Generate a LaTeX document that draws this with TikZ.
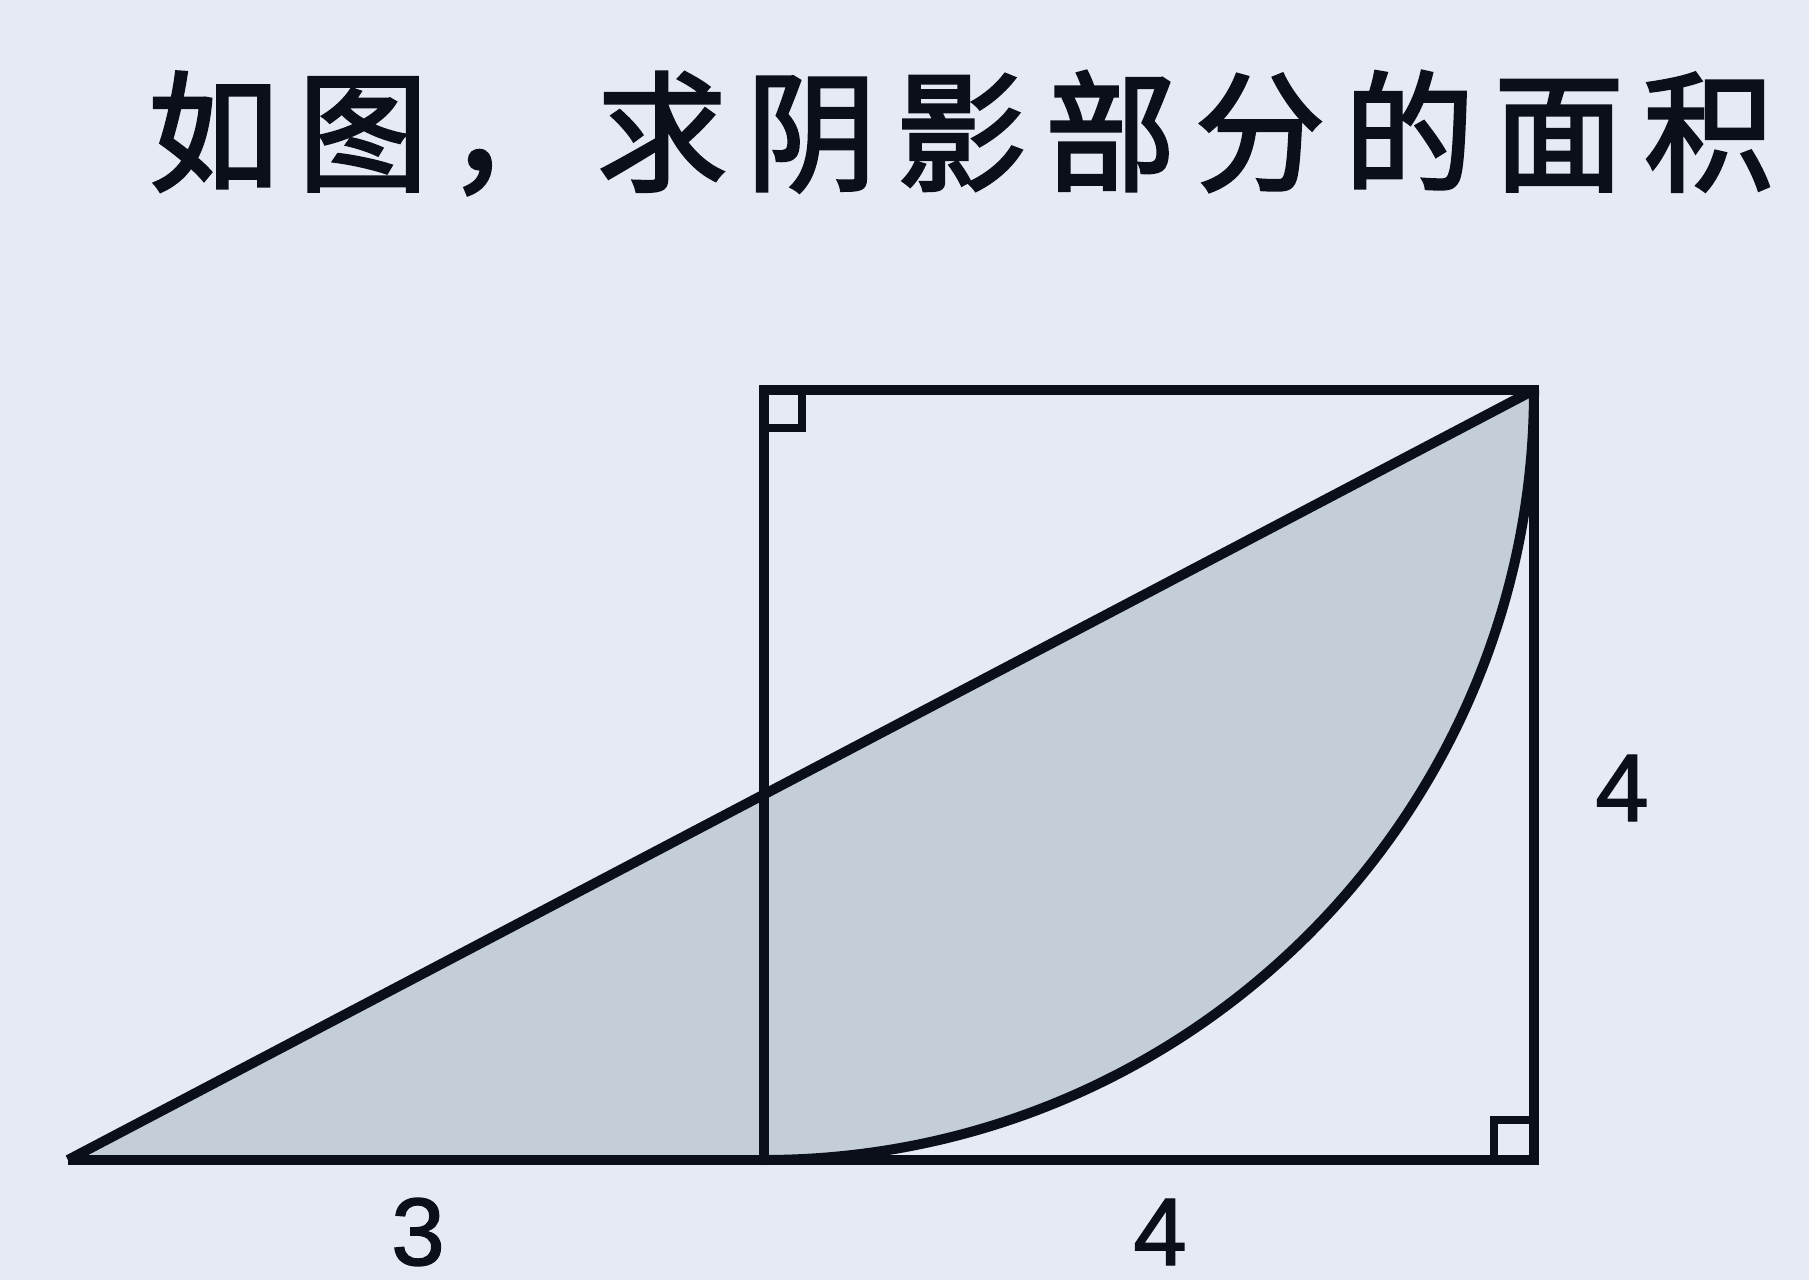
\documentclass[tikz,border=0pt]{standalone}
\usepackage{fontspec}
\setmainfont{Liberation Sans}
\newfontfamily\digits[FakeBold=1.5]{Liberation Sans}
\newfontfamily\cjk[LetterSpace=15,FakeBold=2.5]{Noto Sans CJK SC}
\usetikzlibrary{positioning,calc}
\definecolor{paper}{HTML}{E6EAF4}
\definecolor{greyblue}{HTML}{C3CED8}
\definecolor{ink}{HTML}{0A0F1A}
\tikzstyle{edgeline} = [
draw=ink,
line width=5pt
]
\tikzstyle{rightmark} = [
draw=ink,
line width=4pt
]
\tikzstyle{len} = [
font=\digits\fontsize{48}{50}\selectfont,
text=ink,
inner sep=0pt
]
\tikzstyle{title} = [
font=\cjk\fontsize{65}{70}\selectfont,
text=ink
]

\begin{document}
\begin{tikzpicture}[x=0.5pt,y=0.5pt]
	
	\fill[paper] (0,0) rectangle (1809,1280);
	\useasboundingbox (0,0) rectangle (1809,1280);
	
	\coordinate (tip) at (68,120);
	\coordinate (bl) at (764,120);
	\coordinate (br) at (1534,120);
	\coordinate (tr) at (1534,890);
	\coordinate (tl) at (764,890);
	
	% shaded part
	\fill[greyblue] (tip) -- (tr) arc[start angle=0, end angle=-90, radius=385pt] -- cycle;
	
	% square and triangle
	\draw[edgeline] (bl) -- (br) -- (tr) -- (tl) -- cycle;
	\draw[edgeline] (tip) -- (bl);
	\draw[edgeline] (tip) -- (tr);
	\draw[edgeline] (tr) arc[start angle=0, end angle=-90, radius=385pt];
	
	% right angles
	\draw[rightmark] ($(tl)+(38,0)$) -- ++(0,-38) -- ++(-38,0);
	\draw[rightmark] ($(br)+(-40,0)$) -- ++(0,40) -- ++(40,0);
	
	\node[title] (question) at (961,1147) {如图，求阴影部分的面积};
	\node[len] (three) at (418,48) {3};
	\node[len] (fourb) at (1160,48) {4};
	\node[len] (fourr) at (1622,492) {4};
	
\end{tikzpicture}
\end{document}
